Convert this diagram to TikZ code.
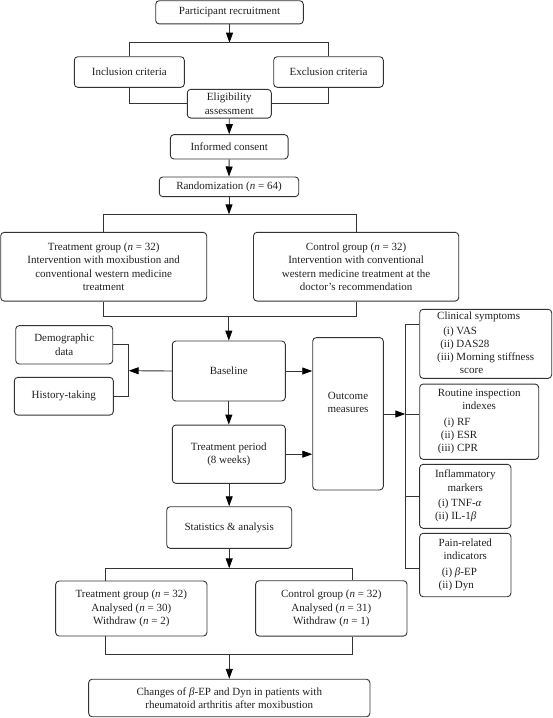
\documentclass[tikz,border=0pt]{standalone}
\usepackage{fontspec}
\setmainfont{Liberation Serif}
\usetikzlibrary{arrows.meta}
\definecolor{linec}{HTML}{333333}
\definecolor{textc}{HTML}{231F20}
\begin{document}
\begin{tikzpicture}[x=1pt,y=-1pt,
  box/.style={draw=linec, line width=0.9pt, rounded corners=3.5pt, align=center,
    inner sep=0pt, text=textc, font=\fontsize{11}{13.2}\selectfont},
  conn/.style={draw=linec, line width=0.9pt},
  arr/.style={conn, -{Triangle[length=10pt,width=7pt,black]}}]
\useasboundingbox (0,0) rectangle (552,718);
% main column
\node[box, minimum width=147.6pt, minimum height=23.2pt] (part) at (229.5,12.3) {Participant recruitment};
\node[box, minimum width=110pt, minimum height=30.6pt] (incl) at (129.3,72) {Inclusion criteria};
\node[box, minimum width=109.6pt, minimum height=30.6pt] (excl) at (328.5,72) {Exclusion criteria};
\node[box, minimum width=84pt, minimum height=28.7pt] (elig) at (229.3,103.7) {Eligibility\\assessment};
\node[box, minimum width=117.7pt, minimum height=24.3pt] (inf) at (229.2,146.8) {Informed consent};
\node[box, minimum width=139.4pt, minimum height=19.7pt] (rand) at (229,186.8) {Randomization (\textit{n} = 64)};
\node[box, minimum width=206pt, minimum height=68.7pt] (tg) at (103.7,266.7)
  {Treatment group (\textit{n} = 32)\\Intervention with moxibustion and\\conventional western medicine\\treatment};
\node[box, minimum width=205.2pt, minimum height=68.7pt] (cg) at (356.1,266.7)
  {Control group (\textit{n} = 32)\\Intervention with conventional\\western medicine treatment at the\\doctor’s recommendation};
\node[box, minimum width=97pt, minimum height=38.3pt] (demo) at (64.2,344.8) {Demographic\\data};
\node[box, minimum width=99pt, minimum height=37.7pt] (hist) at (63.8,396.2) {History-taking};
\node[box, minimum width=113pt, minimum height=60pt] (base) at (228.8,371) {Baseline};
\node[box, minimum width=113pt, minimum height=58.3pt] (tp) at (228.8,454.2) {Treatment period\\(8 weeks)};
\node[box, minimum width=70.6pt, minimum height=152.3pt] (out) at (348,413.8) {Outcome\\measures\\[9pt]\mbox{}};
\node[box, minimum width=132pt, minimum height=69pt] (clin) at (485.7,343.8)
  {\begin{tabular}{@{}r@{\ }l@{}}\multicolumn{2}{@{}l@{}}{Clinical symptoms}\\[2pt]
   (i)&VAS\\(ii)&DAS28\\(iii)&Morning stiffness\\&\hspace{3.5pt}score\end{tabular}};
\node[box, minimum width=119pt, minimum height=75.3pt] (rout) at (479.2,421.7)
  {\begin{tabular}{@{}r@{\ }l@{}}\multicolumn{2}{@{}c@{}}{Routine inspection}\\
   \multicolumn{2}{@{}c@{}}{indexes}\\[2.5pt]
   (i)&RF\\(ii)&ESR\\(iii)&CPR\end{tabular}};
\node[box, minimum width=91.3pt, minimum height=64pt] (infl) at (465.3,496.3)
  {\begin{tabular}{@{}r@{\ }l@{}}\multicolumn{2}{@{}c@{}}{Inflammatory}\\
   \multicolumn{2}{@{}c@{}}{markers}\\[2.5pt]
   (i)&TNF-\textit{α}\\(ii)&IL-1\textit{β}\end{tabular}};
\node[box, minimum width=91.3pt, minimum height=63.4pt] (pain) at (465.3,565)
  {\begin{tabular}{@{}r@{\ }l@{}}\multicolumn{2}{@{}c@{}}{Pain-related}\\
   \multicolumn{2}{@{}c@{}}{indicators}\\[2.5pt]
   (i)&\textit{β}-EP\\(ii)&Dyn\end{tabular}};
\node[box, minimum width=125pt, minimum height=41.6pt] (stat) at (229.2,527.5) {Statistics \& analysis};
\node[box, minimum width=151.3pt, minimum height=55pt] (tg2) at (131.3,608.5)
  {Treatment group (\textit{n} = 32)\\Analysed (\textit{n} = 30)\\Withdraw (\textit{n} = 2)};
\node[box, minimum width=151.4pt, minimum height=55.3pt] (cg2) at (331.3,608.4)
  {Control group (\textit{n} = 32)\\Analysed (\textit{n} = 31)\\Withdraw (\textit{n} = 1)};
\node[box, minimum width=281.3pt, minimum height=37.5pt] (fin) at (229.3,698)
  {Changes of \textit{β}-EP and Dyn in patients with\\rheumatoid arthritis after moxibustion};
% coordinates
\coordinate (b1) at (229.3,42.7);
\coordinate (b3) at (229,214.3);
\coordinate (b4) at (229,316.7);
\coordinate (bk) at (128.7,370.7);
\coordinate (vb) at (405.3,414);
\coordinate (vt) at (405.3,324.3);
\coordinate (vbt) at (405.3,568.7);
\coordinate (b5) at (229.2,568.3);
\coordinate (l5) at (105.7,568.3);
\coordinate (r5) at (352.7,568.3);
\coordinate (l6) at (105.7,654);
\coordinate (r6) at (352.7,654);
% connectors
\draw[arr] (part.south) -- (part.south |- b1);
\draw[conn] (incl.north) -- (incl.north |- b1) -- (excl.north |- b1) -- (excl.north);
\draw[conn] (incl.south) |- (elig.west);
\draw[conn] (excl.south) |- (elig.east);
\draw[arr] (elig.south) -- (inf.north);
\draw[arr] (inf.south) -- (rand.north);
\draw[arr] (rand.south) -- (rand.south |- b3);
\draw[conn] (tg.north) -- (tg.north |- b3) -- (cg.north |- b3) -- (cg.north);
\draw[conn] (tg.south) -- (tg.south |- b4) -- (cg.south |- b4) -- (cg.south);
\draw[arr] (base.north |- b4) -- (base.north);
\draw[conn] (demo.east) -| (bk) |- (hist.east);
\draw[arr] (base.west) -- (bk);
\draw[arr] (base.east) -- (base.east -| out.west);
\draw[arr] (tp.east) -- (tp.east -| out.west);
\draw[arr] (base.south) -- (tp.north);
\draw[arr] (out.east |- vb) -- (vb);
\draw[conn] (clin.west |- vt) -- (vt) -- (vbt) -- (pain.west |- vbt);
\draw[conn] (vb) -- (rout.west |- vb);
\draw[conn] (infl.west -| vb) -- (infl.west);
\draw[arr] (stat.north |- tp.south) -- (stat.north);
\draw[arr] (stat.south) -- (stat.south |- b5);
\draw[conn] (l5 |- tg2.north) -- (l5) -- (r5) -- (r5 |- cg2.north);
\draw[conn] (l6 |- tg2.south) -- (l6) -- (r6) -- (r6 |- cg2.south);
\draw[arr] (fin.north |- l6) -- (fin.north);
\end{tikzpicture}
\end{document}
